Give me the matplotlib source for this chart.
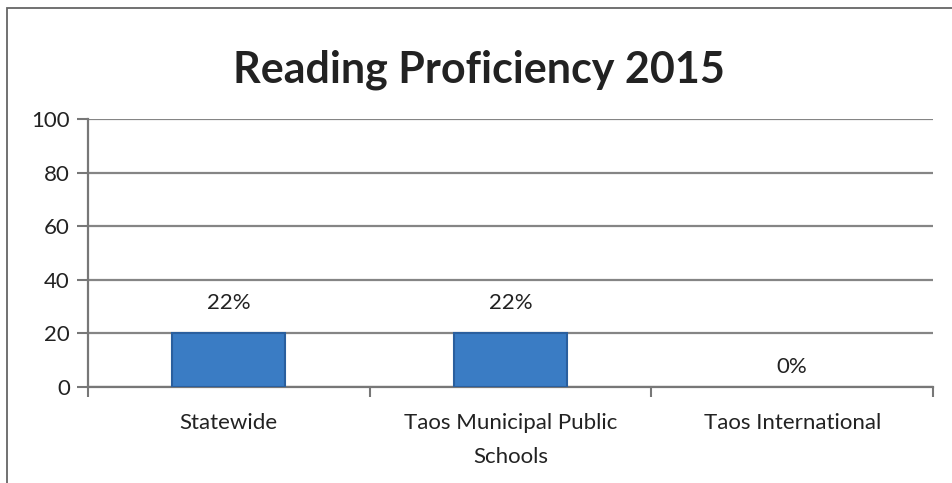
import matplotlib
matplotlib.use("Agg")
import matplotlib.pyplot as plt
from matplotlib.patches import Rectangle

categories = ["Statewide", "Taos Municipal Public\nSchools", "Taos International"]
bar_values = [20, 20, 0]
bar_labels = ["22%", "22%", "0%"]
y_ticks = [0, 20, 40, 60, 80, 100]

plt.rcParams['font.family'] = ['Lato', 'DejaVu Sans']

fig = plt.figure(figsize=(9.53, 4.83), dpi=100)
ax = fig.add_axes([0.0923, 0.1988, 0.8867, 0.5548])

x = list(range(len(categories)))
edges = ["#2a5f9e" if v > 0 else "none" for v in bar_values]
ax.bar(x, bar_values, width=0.4, color="#3a7cc4", edgecolor=edges, linewidth=1.5, zorder=3)

for xi, v, lab in zip(x, bar_values, bar_labels):
    off = 11.5 if v > 0 else 7.5
    ax.text(xi, v + off, lab, ha="center", va="center", fontsize=16, color="#222222")

ax.set_xlim(-0.5, len(categories) - 0.5)
ax.set_ylim(0, 100)
ax.set_yticks(y_ticks)
ax.set_yticklabels([str(t) for t in y_ticks], fontsize=16, color="#222222")
ax.yaxis.grid(True, color="#858585", linewidth=1.6, zorder=0)

# category labels centered, ticks at category boundaries
ax.set_xticks(x)
ax.set_xticklabels(categories, fontsize=16, color="#222222", linespacing=1.85)
ax.tick_params(axis="x", length=0, pad=19)
ax.set_xticks([i - 0.5 for i in range(len(categories) + 1)], minor=True)
ax.tick_params(axis="x", which="minor", length=7, width=1.5, color="#777777", direction="out")
ax.tick_params(axis="y", length=8, width=1.5, color="#777777", direction="out", pad=5)

for side in ["top", "right"]:
    ax.spines[side].set_visible(False)
ax.spines["left"].set_color("#777777")
ax.spines["bottom"].set_color("#777777")
ax.spines["left"].set_linewidth(1.6)
ax.spines["bottom"].set_linewidth(1.6)

fig.text(0.503, 0.855, "Reading Proficiency 2015", ha="center", va="center",
         fontsize=31, fontweight="bold", color="#222222")

# outer frame of the scanned chart
frame = Rectangle((0.0073, -0.1), 1.1, 1.083, transform=fig.transFigure,
                  fill=False, edgecolor="#666666", linewidth=1.3)
fig.patches.append(frame)

fig.savefig("out.png", dpi=100)
